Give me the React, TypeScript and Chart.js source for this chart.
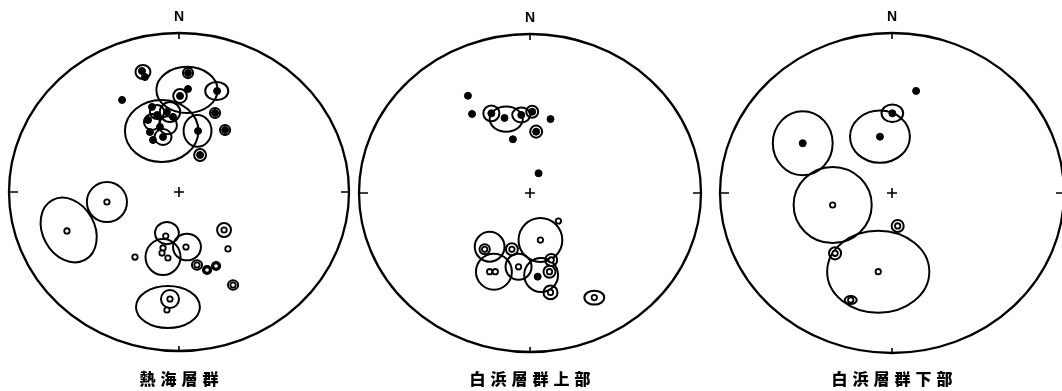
import React, { useEffect, useRef } from "react";
import { Chart, registerables } from "chart.js";

Chart.register(...registerables);

type Pt = [number, number];
type Cone = [number, number, number, number, number?]; // x, y, rx, ry, rotation

// ---- 熱海層群 ----
const atamiNormal: Pt[] = [
  [-0.218, 0.761], [-0.2, 0.723], [0.053, 0.748], [0.053, 0.648], [0.224, 0.635],
  [0.006, 0.604], [-0.335, 0.579], [0.112, 0.384], [0.212, 0.497], [0.271, 0.39],
  [0.124, 0.233], [-0.094, 0.346], [-0.153, 0.327], [-0.129, 0.484], [-0.071, 0.503],
  [-0.035, 0.472], [-0.182, 0.453], [-0.112, 0.409], [-0.171, 0.377], [-0.159, 0.535],
];
const atamiReversed: Pt[] = [
  [-0.424, -0.063], [-0.659, -0.245], [-0.078, -0.277], [0.041, -0.346], [-0.094, -0.352],
  [-0.1, -0.384], [-0.065, -0.415], [0.265, -0.239], [0.288, -0.358], [-0.259, -0.409],
  [0.106, -0.459], [0.165, -0.491], [0.218, -0.465], [0.318, -0.585], [-0.053, -0.673],
  [-0.071, -0.742],
];
const atamiCones: Cone[] = [
  [-0.212, 0.755, 0.044, 0.044], [0.047, 0.642, 0.18, 0.145], [0.053, 0.748, 0.03, 0.032],
  [0.222, 0.635, 0.068, 0.057], [0.006, 0.604, 0.04, 0.044], [-0.102, 0.384, 0.216, 0.195],
  [0.109, 0.384, 0.082, 0.1], [0.212, 0.497, 0.03, 0.032], [0.271, 0.39, 0.03, 0.032],
  [0.124, 0.233, 0.035, 0.038], [-0.094, 0.346, 0.05, 0.05], [-0.053, 0.503, 0.06, 0.063],
  [-0.129, 0.503, 0.042, 0.044], [-0.159, 0.44, 0.047, 0.05], [-0.065, 0.42, 0.053, 0.057],
  [-0.424, -0.063, 0.118, 0.126], [-0.649, -0.239, 0.153, 0.214, -0.5], [-0.071, -0.258, 0.07, 0.07],
  [0.047, -0.346, 0.082, 0.084], [-0.094, -0.409, 0.103, 0.113], [0.265, -0.239, 0.041, 0.044],
  [0.106, -0.459, 0.03, 0.03], [0.165, -0.491, 0.024, 0.025], [0.218, -0.465, 0.024, 0.025],
  [0.318, -0.585, 0.03, 0.03], [-0.065, -0.723, 0.188, 0.132], [-0.053, -0.673, 0.053, 0.057],
];

// ---- 白浜層群上部 ----
const upperNormal: Pt[] = [
  [-0.363, 0.612], [-0.339, 0.497], [-0.226, 0.501], [-0.149, 0.472], [-0.051, 0.491],
  [0.013, 0.511], [0.12, 0.465], [0.036, 0.386], [-0.1, 0.338], [0.05, 0.124], [0.045, -0.526],
];
const upperReversed: Pt[] = [
  [0.061, -0.296], [0.166, -0.176], [-0.265, -0.354], [-0.106, -0.354], [-0.236, -0.495],
  [-0.203, -0.495], [-0.067, -0.464], [0.124, -0.421], [0.114, -0.495], [0.12, -0.625],
  [0.376, -0.658],
];
const upperCones: Cone[] = [
  [-0.226, 0.501, 0.047, 0.05], [-0.139, 0.465, 0.097, 0.079], [-0.051, 0.491, 0.053, 0.047],
  [0.013, 0.511, 0.035, 0.038], [0.036, 0.386, 0.035, 0.038], [0.061, -0.296, 0.128, 0.138],
  [-0.236, -0.338, 0.087, 0.094], [-0.265, -0.354, 0.03, 0.032], [-0.106, -0.354, 0.035, 0.038],
  [-0.211, -0.495, 0.105, 0.113], [-0.067, -0.464, 0.076, 0.082], [0.065, -0.516, 0.099, 0.107],
  [0.124, -0.421, 0.035, 0.038], [0.114, -0.495, 0.035, 0.038], [0.12, -0.625, 0.041, 0.044],
  [0.376, -0.658, 0.058, 0.044],
];

// ---- 白浜層群下部 ----
const lowerNormal: Pt[] = [[0.14, 0.638], [0.002, 0.498], [-0.07, 0.352], [-0.519, 0.311]];
const lowerReversed: Pt[] = [[-0.345, -0.075], [-0.08, -0.492], [0.033, -0.206], [-0.331, -0.377], [-0.24, -0.669]];
const lowerCones: Cone[] = [
  [0.002, 0.498, 0.063, 0.055], [-0.07, 0.352, 0.174, 0.163], [-0.519, 0.311, 0.174, 0.2],
  [-0.345, -0.075, 0.227, 0.238], [-0.08, -0.492, 0.297, 0.256], [0.033, -0.206, 0.035, 0.038],
  [-0.331, -0.377, 0.035, 0.038], [-0.24, -0.669, 0.035, 0.025],
];

const panelLabels = ["熱海層群", "白浜層群上部", "白浜層群下部"];

interface Panel {
  label: string;
  normal: Pt[];
  reversed: Pt[];
  cones: Cone[];
  left: number;
  pad: { left: number; right: number; top: number; bottom: number };
}

const panels: Panel[] = [
  { label: panelLabels[0], normal: atamiNormal, reversed: atamiReversed, cones: atamiCones, left: -1, pad: { left: 10, right: 10, top: 33, bottom: 40 } },
  { label: panelLabels[1], normal: upperNormal, reversed: upperReversed, cones: upperCones, left: 350, pad: { left: 9, right: 9, top: 34, bottom: 39 } },
  { label: panelLabels[2], normal: lowerNormal, reversed: lowerReversed, cones: lowerCones, left: 712, pad: { left: 8, right: 8, top: 33, bottom: 38 } },
];

const W = 360;
const H = 391;

function makePlugin(p: Panel) {
  return {
    id: "stereo",
    beforeDatasetsDraw(chart: any) {
      const { ctx } = chart;
      const xs = chart.scales.x, ys = chart.scales.y;
      const px = (v: number) => xs.getPixelForValue(v);
      const py = (v: number) => ys.getPixelForValue(v);
      const cx = px(0), cy = py(0);
      const sx = px(1) - cx, sy = cy - py(1);
      ctx.save();
      ctx.strokeStyle = "#000";
      ctx.lineWidth = 2.3;
      ctx.beginPath();
      ctx.ellipse(cx, cy, sx, sy, 0, 0, Math.PI * 2);
      ctx.stroke();
      // ticks
      ctx.lineWidth = 1.6;
      ctx.beginPath();
      ctx.moveTo(cx, py(1)); ctx.lineTo(cx, py(1) + 6);
      ctx.moveTo(cx, py(-1)); ctx.lineTo(cx, py(-1) - 5);
      ctx.moveTo(px(-1), cy); ctx.lineTo(px(-1) + 9, cy);
      ctx.moveTo(px(1), cy); ctx.lineTo(px(1) - 8, cy);
      // center cross
      ctx.moveTo(cx - 5, cy); ctx.lineTo(cx + 5, cy);
      ctx.moveTo(cx, cy - 5); ctx.lineTo(cx, cy + 5);
      ctx.stroke();
      // confidence cones
      ctx.lineWidth = 2;
      for (const c of p.cones) {
        ctx.beginPath();
        ctx.ellipse(px(c[0]), py(c[1]), c[2] * sx, c[3] * sy, c[4] || 0, 0, Math.PI * 2);
        ctx.stroke();
      }
      ctx.restore();
    },
    afterDraw(chart: any) {
      const { ctx } = chart;
      const xs = chart.scales.x, ys = chart.scales.y;
      const cx = xs.getPixelForValue(0);
      const top = ys.getPixelForValue(1);
      ctx.save();
      ctx.fillStyle = "#000";
      ctx.textAlign = "center";
      ctx.textBaseline = "middle";
      ctx.font = "bold 14px 'Liberation Sans', Arial, sans-serif";
      ctx.fillText("N", cx, top - 16);
      ctx.font = "900 16px 'Noto Sans CJK JP', sans-serif";
      (ctx as any).letterSpacing = "5px";
      ctx.fillText(p.label, cx + 2.5, 379);
      ctx.restore();
    },
  };
}

function StereoPanel({ p }: { p: Panel }) {
  const ref = useRef<HTMLCanvasElement | null>(null);
  useEffect(() => {
    if (!ref.current) return;
    const chart = new Chart(ref.current, {
      type: "scatter",
      data: {
        datasets: [
          {
            label: "normal",
            data: p.normal.map(([x, y]) => ({ x, y })),
            backgroundColor: "#000",
            borderColor: "#000",
            borderWidth: 1,
            pointRadius: 3.5,
          },
          {
            label: "reversed",
            data: p.reversed.map(([x, y]) => ({ x, y })),
            backgroundColor: "#fff",
            borderColor: "#000",
            borderWidth: 1.8,
            pointRadius: 2.7,
          },
        ],
      },
      options: {
        animation: false,
        responsive: false,
        events: [],
        layout: { padding: p.pad },
        plugins: { legend: { display: false }, tooltip: { enabled: false }, title: { display: false } },
        scales: {
          x: { type: "linear", min: -1, max: 1, display: false },
          y: { type: "linear", min: -1, max: 1, display: false },
        },
      },
      plugins: [makePlugin(p)],
    });
    return () => chart.destroy();
  }, [p]);
  return (
    <canvas
      ref={ref}
      width={W}
      height={H}
      style={{ position: "absolute", left: p.left, top: 0, width: W, height: H }}
    />
  );
}

export default function App() {
  return (
    <div style={{ position: "fixed", left: 0, top: 0, width: 1062, height: 391, overflow: "hidden", background: "#fff" }}>
      {panels.map((p, i) => (
        <StereoPanel key={i} p={p} />
      ))}
    </div>
  );
}
